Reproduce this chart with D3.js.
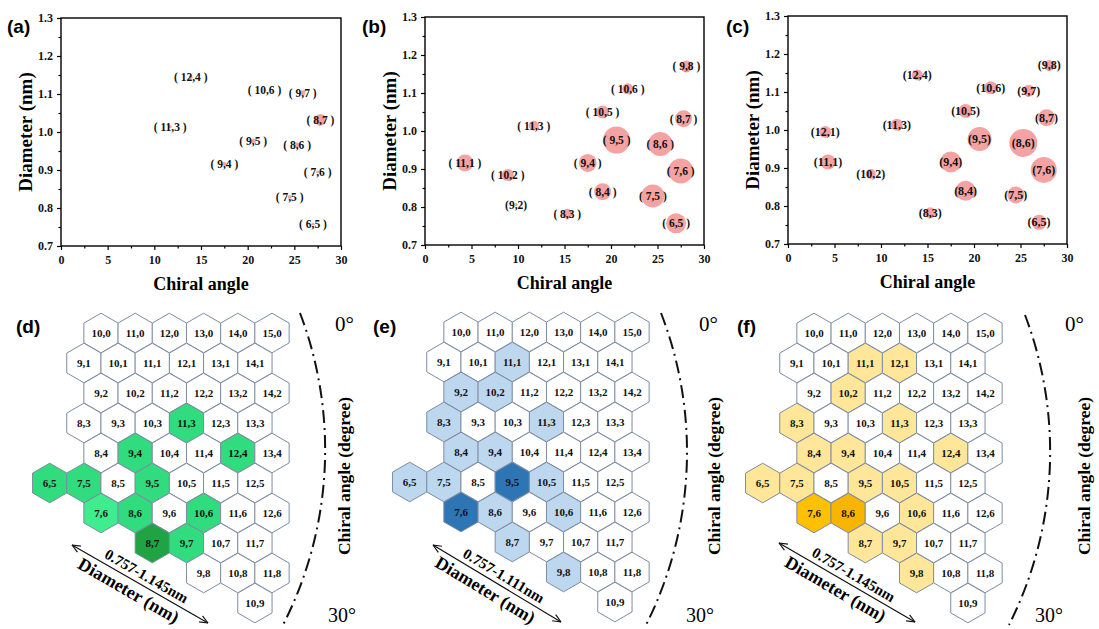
<!DOCTYPE html>
<html><head><meta charset="utf-8">
<script src="https://cdn.jsdelivr.net/npm/d3@7"></script>
<style>body{margin:0;background:#fff;} svg{display:block}</style>
</head><body><svg id="c" width="1099" height="629"></svg>
<script>
// ---------- DATA ----------
const tubes = ["6,5","7,5","7,6","8,3","8,4","8,6","8,7","9,2","9,4","9,5","9,7","9,8","10,2","10,5","10,6","11,1","11,3","12,1","12,4"];
const chiralAngle = [27.0,24.5,27.5,15.3,19.1,25.3,27.8,9.8,17.5,20.6,25.9,28.1,8.9,19.1,21.8,4.3,11.7,4.0,13.9];
const diameter = [0.757,0.829,0.895,0.782,0.840,0.966,1.032,0.806,0.916,0.976,1.103,1.170,0.884,1.050,1.111,0.916,1.014,0.995,1.145];
const abundanceA = [1.1,2.0,1.1,null,null,3.2,17,null,2.0,3.2,3.2,null,null,null,0.5,null,1.1,null,2.0];
const abundanceB = [51,67.5,79.7,12.8,37,73.5,37,1.1,41,93,null,18.4,18.4,21.6,15.4,36.9,12.8,null,null];
const abundanceC = [28.7,37,86,15.4,51,100,37,null,56,73.5,18.4,15.4,12.8,25,21.6,28.7,18.4,18.4,15.4];
const xTicks = [0,5,10,15,20,25,30];
const yTicks = [0.7,0.8,0.9,1.0,1.1,1.2,1.3];

const hexCells = ["10,0","11,0","12,0","13,0","14,0","15,0",
  "9,1","10,1","11,1","12,1","13,1","14,1",
  "9,2","10,2","11,2","12,2","13,2","14,2",
  "8,3","9,3","10,3","11,3","12,3","13,3",
  "8,4","9,4","10,4","11,4","12,4","13,4",
  "6,5","7,5","8,5","9,5","10,5","11,5","12,5",
  "7,6","8,6","9,6","10,6","11,6","12,6",
  "8,7","9,7","10,7","11,7",
  "9,8","10,8","11,8",
  "10,9"];
const greenLight = ["11,3","9,4","12,4","6,5","7,5","9,5","8,6","10,6","9,7"];
const greenBright = ["7,6"];
const greenDark = ["8,7"];
const blueLight = ["11,1","9,2","10,2","8,3","11,3","8,4","9,4","6,5","7,5","10,5","8,6","10,6","8,7","9,8"];
const blueDark = ["9,5","7,6"];
const yellowLight = ["11,1","12,1","10,2","8,3","11,3","8,4","9,4","12,4","6,5","7,5","9,5","10,5","10,6","8,7","9,7","9,8"];
const yellowDark = ["7,6"];
const yellowDarker = ["8,6"];
const diameterRanges = ["0.757-1.145nm","0.757-1.111nm","0.757-1.145nm"];

// ---------- DRAW ----------
const svg = d3.select("#c");
const serif = "'Liberation Serif','Times New Roman',serif";
const sans = "'Liberation Sans',Arial,sans-serif";
const rScale = d3.scaleSqrt().domain([0,100]).range([0,14]);

const topPanels = [
  {label:"(a)", lx:7, ly:33, left:61, right:341, top:18, bottom:246, ab:abundanceA, wide:true},
  {label:"(b)", lx:362, ly:33, left:425, right:704, top:17, bottom:245, ab:abundanceB, wide:true},
  {label:"(c)", lx:726, ly:33, left:788, right:1067, top:16, bottom:244, ab:abundanceC, wide:false}
];

topPanels.forEach(p => {
  const g = svg.append("g");
  const x = d3.scaleLinear().domain([0,30]).range([p.left,p.right]);
  const y = d3.scaleLinear().domain([0.7,1.3]).range([p.bottom,p.top]);
  const pts = tubes.map((t,i)=>({t, a:chiralAngle[i], d:diameter[i], v:p.ab[i]})).filter(o=>o.v!=null);
  g.selectAll("circle.b").data(pts).enter().append("circle")
    .attr("cx",o=>x(o.a)).attr("cy",o=>y(o.d)).attr("r",o=>rScale(o.v))
    .attr("fill","#f4a2a2");
  g.selectAll("text.l").data(pts).enter().append("text")
    .attr("x",o=>x(o.a)).attr("y",o=>y(o.d)+4)
    .attr("text-anchor","middle").attr("font-family",serif).attr("font-weight","bold")
    .attr("font-size", p.wide ? 11.5 : 12).attr("fill","#111")
    .attr("xml:space","preserve")
    .text(o=> p.wide && o.t!=="9,2" ? "( "+o.t+" )" : "("+o.t+")");
  g.append("rect").attr("x",p.left).attr("y",p.top).attr("width",p.right-p.left).attr("height",p.bottom-p.top)
    .attr("fill","none").attr("stroke","#000").attr("stroke-width",1.4);
  const xa = g.append("g").attr("transform",`translate(0,${p.bottom})`)
    .call(d3.axisBottom(x).tickValues(xTicks).tickSize(4).tickFormat(d3.format("d")));
  const xm = g.append("g").attr("transform",`translate(0,${p.bottom})`)
    .call(d3.axisBottom(x).tickValues([2.5,7.5,12.5,17.5,22.5,27.5]).tickSize(2.5).tickFormat(""));
  const ya = g.append("g").attr("transform",`translate(${p.left},0)`)
    .call(d3.axisLeft(y).tickValues(yTicks).tickSize(4).tickFormat(d3.format(".1f")));
  const ym = g.append("g").attr("transform",`translate(${p.left},0)`)
    .call(d3.axisLeft(y).tickValues([0.75,0.85,0.95,1.05,1.15,1.25]).tickSize(2.5).tickFormat(""));
  [xa,xm,ya,ym].forEach(a=>{
    a.select(".domain").remove();
    a.selectAll("line").attr("stroke","#000").attr("stroke-width",1.2);
    a.selectAll("text").attr("font-family",serif).attr("font-weight","bold").attr("font-size",12).attr("fill","#111");
  });
  xa.selectAll("text").attr("dy","0.95em");
  ya.selectAll("text").attr("dx","-1px");
  g.append("text").attr("x",(p.left+p.right)/2).attr("y",p.bottom+44).attr("text-anchor","middle")
    .attr("font-family",serif).attr("font-weight","bold").attr("font-size",18).text("Chiral angle");
  g.append("text").attr("transform",`translate(${p.left-29},${(p.top+p.bottom)/2}) rotate(-90)`)
    .attr("text-anchor","middle").attr("font-family",serif).attr("font-weight","bold").attr("font-size",19).text("Diameter (nm)");
  g.append("text").attr("x",p.lx).attr("y",p.ly).attr("font-family",sans).attr("font-weight","bold").attr("font-size",19).text(p.label);
});

// ---------- HEX PANELS ----------
const hexPanels = [
  {label:"(d)", lx:16, ox:101, oy:333, range:diameterRanges[0],
   fills:[[greenLight,"#30dc7d"],[greenBright,"#3fec8e"],[greenDark,"#20a443"]],
   arc:[[300,313],[283,625]], deg0:[335,331], deg30:[328,622], cax:344, arrow:[[72,545],[208,623]]},
  {label:"(e)", lx:373, ox:461, oy:332, range:diameterRanges[1],
   fills:[[blueLight,"#bdd7ee"],[blueDark,"#2e75b6"]],
   arc:[[661,313],[646,625]], deg0:[699,331], deg30:[686,622], cax:714, arrow:[[433,545],[561,622]]},
  {label:"(f)", lx:737, ox:814, oy:333, range:diameterRanges[2],
   fills:[[yellowLight,"#ffe699"],[yellowDark,"#ffc000"],[yellowDarker,"#f7b500"]],
   arc:[[1025,315],[1009,625]], deg0:[1065,331], deg30:[1035,622], cax:1084, arrow:[[779,543],[915,622]]}
];
const R = 19.8, DX = 34.2, DY = 30;
const hexPath = d3.line()(d3.range(6).map(i=>{const a=(-90+60*i)*Math.PI/180;return [R*Math.cos(a),R*Math.sin(a)];}))+"Z";

hexPanels.forEach(p=>{
  const g = svg.append("g");
  const hx = d3.scaleLinear().domain([10,15]).range([p.ox,p.ox+5*DX]);
  const hy = d3.scaleLinear().domain([0,9]).range([p.oy,p.oy+9*DY]);
  const colorOf = c => { let col="#ffffff"; p.fills.forEach(([list,cl])=>{ if(list.includes(c)) col=cl; }); return col; };
  const cells = hexCells.map(c=>{const [n,m]=c.split(",").map(Number);return {c,n,m};});
  const cg = g.selectAll("g.h").data(cells).enter().append("g")
    .attr("transform",d=>`translate(${hx(d.n+d.m/2)},${hy(d.m)})`);
  cg.append("path").attr("d",hexPath).attr("fill",d=>colorOf(d.c)).attr("stroke","#7d8ca3").attr("stroke-width",1);
  cg.append("text").attr("y",4).attr("text-anchor","middle").attr("font-family",serif).attr("font-weight","bold")
    .attr("font-size",11).attr("fill","#111").text(d=>d.c);
  g.append("text").attr("x",p.lx).attr("y",333).attr("font-family",sans).attr("font-weight","bold").attr("font-size",19).text(p.label);
  const [a0,a1]=p.arc;
  g.append("path").attr("d",`M${a0[0]},${a0[1]} A385,385 0 0 1 ${a1[0]},${a1[1]}`)
    .attr("fill","none").attr("stroke","#111").attr("stroke-width",2).attr("stroke-dasharray","13,5,2,5");
  g.append("text").attr("x",p.deg0[0]).attr("y",p.deg0[1]).attr("font-family",serif).attr("font-size",21).text("0°");
  g.append("text").attr("x",p.deg30[0]).attr("y",p.deg30[1]).attr("font-family",serif).attr("font-size",20).text("30°");
  g.append("text").attr("transform",`translate(${p.cax},476) rotate(-90)`).attr("text-anchor","middle")
    .attr("dy","0.35em").attr("font-family",serif).attr("font-weight","bold").attr("font-size",17.5).text("Chiral angle (degree)");
  const [s,e]=p.arrow;
  const ang = Math.atan2(e[1]-s[1],e[0]-s[0]);
  const deg = ang*180/Math.PI;
  g.append("line").attr("x1",s[0]).attr("y1",s[1]).attr("x2",e[0]).attr("y2",e[1]).attr("stroke","#111").attr("stroke-width",1.2);
  const head=(pt,dir)=>{
    const L=9, w=0.4;
    [w,-w].forEach(o=>{
      g.append("line").attr("x1",pt[0]).attr("y1",pt[1])
        .attr("x2",pt[0]+dir*L*Math.cos(ang+o)).attr("y2",pt[1]+dir*L*Math.sin(ang+o))
        .attr("stroke","#111").attr("stroke-width",1.2);
    });
  };
  head(s,1); head(e,-1);
  const mx=(s[0]+e[0])/2, my=(s[1]+e[1])/2;
  const nx=Math.sin(ang), ny=-Math.cos(ang);
  g.append("text").attr("transform",`translate(${mx+nx*4+2},${my+ny*4}) rotate(${deg})`).attr("text-anchor","middle")
    .attr("font-family",serif).attr("font-weight","bold").attr("font-size",15).text(p.range);
  g.append("text").attr("transform",`translate(${mx-nx*17-6},${my-ny*17-3}) rotate(${deg})`).attr("text-anchor","middle")
    .attr("font-family",serif).attr("font-weight","bold").attr("font-size",18).text("Diameter (nm)");
});
</script></body></html>
